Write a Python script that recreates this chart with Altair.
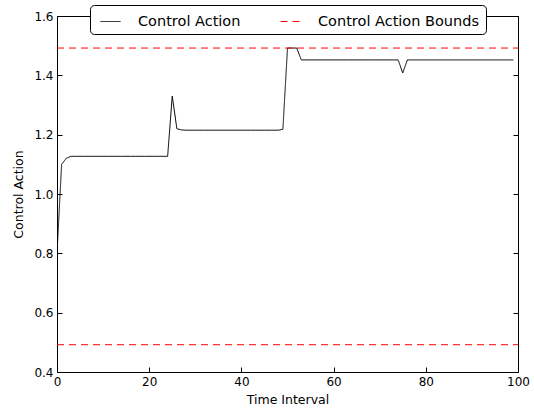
import altair as alt
import pandas as pd

# Control action per time interval
time_interval = list(range(100))
control_action = [
    0.80, 1.10, 1.12, 1.127, 1.127, 1.127, 1.127, 1.127, 1.127, 1.127,
    1.127, 1.127, 1.127, 1.127, 1.127, 1.127, 1.127, 1.127, 1.127, 1.127,
    1.127, 1.127, 1.127, 1.127, 1.127, 1.33, 1.22, 1.216, 1.215, 1.215,
    1.215, 1.215, 1.215, 1.215, 1.215, 1.215, 1.215, 1.215, 1.215, 1.215,
    1.215, 1.215, 1.215, 1.215, 1.215, 1.215, 1.215, 1.215, 1.215, 1.218,
    1.492, 1.492, 1.492, 1.452, 1.452, 1.452, 1.452, 1.452, 1.452, 1.452,
    1.452, 1.452, 1.452, 1.452, 1.452, 1.452, 1.452, 1.452, 1.452, 1.452,
    1.452, 1.452, 1.452, 1.452, 1.452, 1.408, 1.452, 1.452, 1.452, 1.452,
    1.452, 1.452, 1.452, 1.452, 1.452, 1.452, 1.452, 1.452, 1.452, 1.452,
    1.452, 1.452, 1.452, 1.452, 1.452, 1.452, 1.452, 1.452, 1.452, 1.452,
]

# Bounds (horizontal dashed lines spanning the x range)
bound_names = ["upper", "lower"]
bound_values = [1.492, 0.492]
bound_x = [0, 100]

series_names = ["Control Action", "Control Action Bounds"]
series_colors = ["black", "red"]
series_dashes = [[1, 0], [7, 5]]

x_ticks = [0, 20, 40, 60, 80, 100]
y_ticks = [0.4, 0.6, 0.8, 1.0, 1.2, 1.4, 1.6]

line_df = pd.DataFrame({
    "t": time_interval,
    "v": control_action,
    "series": series_names[0],
    "grp": "ca",
})
bound_rows = []
for name, val in zip(bound_names, bound_values):
    for xv in bound_x:
        bound_rows.append({"t": xv, "v": val, "series": series_names[1], "grp": name})
bound_df = pd.DataFrame(bound_rows)

FONT = "DejaVu Sans"

color_enc = alt.Color(
    "series:N",
    scale=alt.Scale(domain=series_names, range=series_colors),
    legend=alt.Legend(
        title=None,
        orient="none",
        legendX=33,
        legendY=-11,
        direction="horizontal",
        columns=2,
        columnPadding=35,
        labelFontSize=14.5,
        labelFont=FONT,
        labelColor="black",
        labelLimit=400,
        symbolSize=400,
        symbolStrokeWidth=1,
        labelOffset=17,
        symbolOffset=4,
        padding=6,
        fillColor="white",
        strokeColor="black",
        cornerRadius=4,
    ),
)
dash_enc = alt.StrokeDash(
    "series:N",
    scale=alt.Scale(domain=series_names, range=series_dashes),
    legend=None,
)

x_scale = alt.Scale(domain=[0, 100], nice=False, zero=False)
y_scale = alt.Scale(domain=[0.4, 1.6], nice=False, zero=False)

main = alt.Chart(line_df).mark_line(strokeWidth=1, clip=True).encode(
    x=alt.X("t:Q", scale=x_scale, axis=alt.Axis(
        orient="bottom", title="Time Interval", values=x_ticks, format="d",
        offset=-5, tickSize=5, domain=False, grid=False, labelPadding=4,
        labelFlush=False,
        labelFontSize=12, titleFontSize=12.5, titleFontWeight="normal",
        titlePadding=6, labelFont=FONT, titleFont=FONT, labelColor="black",
        titleColor="black", tickColor="black",
    )),
    y=alt.Y("v:Q", scale=y_scale, axis=alt.Axis(
        orient="left", title="Control Action", values=y_ticks, format=".1f",
        offset=-5, tickSize=5, domain=False, grid=False, labelPadding=4,
        labelFlush=False,
        labelFontSize=12, titleFontSize=12.5, titleFontWeight="normal",
        titlePadding=8, labelFont=FONT, titleFont=FONT, labelColor="black",
        titleColor="black", tickColor="black",
    )),
    color=color_enc,
    strokeDash=dash_enc,
    detail="grp:N",
)

bounds = alt.Chart(bound_df).mark_line(strokeWidth=1, clip=True).encode(
    x=alt.X("t:Q", scale=x_scale, axis=alt.Axis(
        orient="top", title=None, values=x_ticks, labels=False,
        offset=-5, tickSize=5, domain=False, grid=False, tickColor="black",
    )),
    y=alt.Y("v:Q", scale=y_scale, axis=alt.Axis(
        orient="right", title=None, values=y_ticks, labels=False,
        offset=-5, tickSize=5, domain=False, grid=False, tickColor="black",
    )),
    color=color_enc,
    strokeDash=dash_enc,
    detail="grp:N",
)

chart = alt.layer(main, bounds).resolve_axis(
    x="independent", y="independent"
).properties(
    width=461,
    height=356,
    autosize="none",
    padding={"left": 57, "top": 16, "right": 16, "bottom": 39},
    background="white",
).configure_view(
    stroke="black", strokeWidth=1
)

chart.save("out.html", embed_options={"renderer": "svg", "actions": False})
